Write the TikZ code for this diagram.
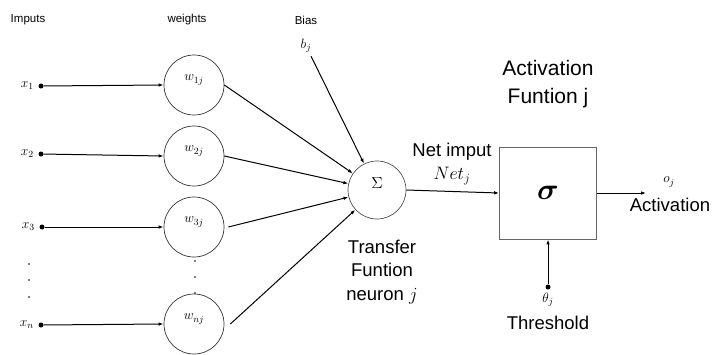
\RequirePackage{fix-cm}
\documentclass[tikz,border=0pt]{standalone}
\usepackage{amsmath, amssymb}
\usepackage{fontspec}
\setmainfont{Liberation Sans}
\usepackage{tikz}
\usetikzlibrary{positioning, arrows.meta}
\tikzset{
    weight/.style={draw=black!80, circle, minimum size=60pt, inner sep=0pt, line width=0.7pt},
    summer/.style={draw=black!70, circle, minimum size=58pt, inner sep=0pt, line width=0.7pt},
    actbox/.style={draw=black!60, rectangle, minimum width=97pt, minimum height=92pt, line width=0.8pt},
    indot/.style={circle, fill=black, inner sep=0pt, minimum size=5pt},
    link/.style={-{Latex[length=5pt, width=3.5pt]}, line width=1pt, draw=black},
    smalltxt/.style={font=\fontsize{11.5}{13}\selectfont},
    bigtxt/.style={font=\fontsize{18.5}{23.5}\selectfont, align=center},
    mathtxt/.style={font=\fontsize{13.5}{15}\selectfont}
}

\begin{document}
\begin{tikzpicture}[x=1pt, y=-1pt]
\useasboundingbox (0,0) rectangle (713,354);

% --- Column headers ---
\node[smalltxt] (hin) at (28,20) {Imputs};
\node[smalltxt] (hw) at (187,20) {weights};
\node[smalltxt] (hb) at (306,20) {Bias};

% --- Inputs ---
\node[indot, label={[mathtxt, xshift=-1pt]left:$x_1$}] (x1) at (41,86) {};
\node[indot, label={[mathtxt, xshift=-1pt]left:$x_2$}] (x2) at (41,154) {};
\node[indot, label={[mathtxt, xshift=-1pt]left:$x_3$}] (x3) at (42,227) {};
\node[indot, label={[mathtxt, xshift=-1pt]left:$x_n$}] (xn) at (41,325) {};

% --- Weights ---
\node[weight, label={[mathtxt, yshift=5pt]center:$w_{1j}$}] (w1) at (194,85) {};
\node[weight, label={[mathtxt, yshift=5pt]center:$w_{2j}$}] (w2) at (194,156) {};
\node[weight, label={[mathtxt, yshift=5pt]center:$w_{3j}$}] (w3) at (194,227) {};
\node[weight, label={[mathtxt, yshift=5pt]center:$w_{nj}$}] (wn) at (194,324) {};

% vertical dots
\foreach \yy in {264,280,297} \fill (29,\yy) circle (0.9pt);
\foreach \yy in {261,277,293} \fill (195,\yy) circle (0.9pt);

% --- Summation and activation ---
\node[summer, label={[font=\fontsize{16}{18}\selectfont, yshift=7pt]center:$\Sigma$}] (sum) at (377,190) {};
\node[mathtxt] (bias) at (306,46) {$b_j$};
\node[actbox] (act) at (548,193) {\fontsize{30}{32}\selectfont$\boldsymbol{\sigma}$};
\node[indot] (theta) at (548,287) {};
\coordinate (out) at (646,193);

% --- Arcs ---
\draw[link] (x1) -- (w1.west);
\draw[link] (x2) -- (w2.west);
\draw[link] (x3) -- (w3.west);
\draw[link] (xn) -- (wn.west);

\draw[link] (w1.east) -- (sum);
\draw[link] (w2.east) -- (sum);
\draw[link] ([xshift=4pt]w3.east) -- (sum);
\draw[link] ([xshift=6pt]wn.east) -- (sum);
\draw[link] (bias) -- (sum);

\draw[link] (sum.east) -- (act.west);
\draw[link] (act.east) -- (out);
\draw[link] (theta) -- (act.south);

% --- Labels ---
\node[bigtxt, font=\fontsize{21}{28}\selectfont] (title) at (548,84) {Activation\\Funtion j};
\node[bigtxt] (netlbl) at (452,152) {Net imput};
\node[bigtxt, font=\fontsize{18}{20}\selectfont] (netj) at (452,176) {$Net_j$};
\node[bigtxt] (tlbl) at (382,272) {Transfer\\Funtion\\neuron $j$};
\node[mathtxt] (oj) at (669,182) {$o_j$};
\node[bigtxt] (alabel) at (670,205) {Activation};
\node[mathtxt] (thl) at (548,300) {$\theta_j$};
\node[bigtxt] (thr) at (548,323) {Threshold};

\end{tikzpicture}
\end{document}
